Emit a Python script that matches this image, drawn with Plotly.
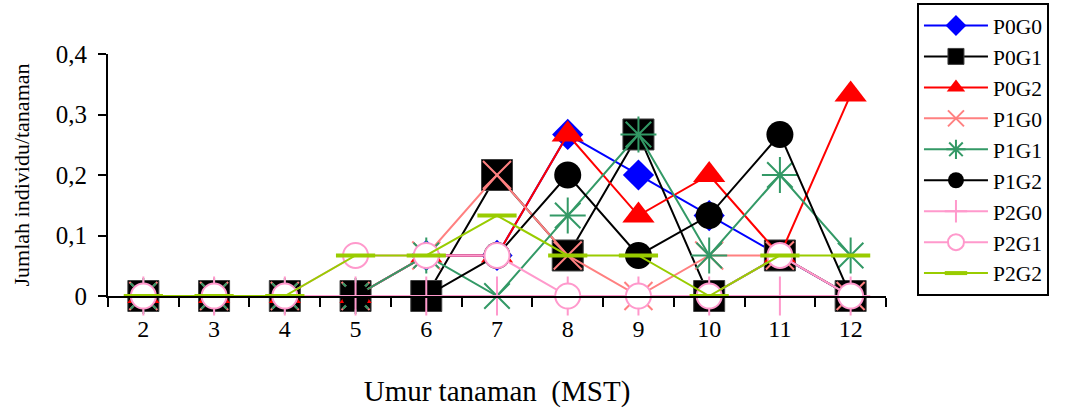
import plotly.graph_objects as go

# Plant age in weeks after planting (MST)
weeks = ["2", "3", "4", "5", "6", "7", "8", "9", "10", "11", "12"]

# Individuals per plant, one list per treatment
p0g0 = [0, 0, 0, 0, 0.067, 0.067, 0.267, 0.2, 0.133, 0.067, 0]
p0g1 = [0, 0, 0, 0, 0, 0.2, 0.067, 0.267, 0, 0.067, 0]
p0g2 = [0, 0, 0, 0, 0.067, 0.067, 0.267, 0.133, 0.2, 0.067, 0.333]
p1g0 = [0, 0, 0, 0, 0.067, 0.2, 0.067, 0, 0.067, 0.067, 0]
p1g1 = [0, 0, 0, 0, 0.067, 0, 0.133, 0.267, 0.067, 0.2, 0.067]
p1g2 = [0, 0, 0, 0, 0, 0.067, 0.2, 0.067, 0.133, 0.267, 0]
p2g0 = [0, 0, 0, 0, 0, 0, 0, 0, 0, 0, 0]
p2g1 = [0, 0, 0, 0.067, 0.067, 0.067, 0, 0, 0, 0.067, 0]
p2g2 = [0, 0, 0, 0.067, 0.067, 0.133, 0.067, 0.067, 0, 0.067, 0.067]

y_ticks = [0, 0.1, 0.2, 0.3, 0.4]
y_tick_labels = ["0", "0,1", "0,2", "0,3", "0,4"]

FONT = "'Liberation Serif', 'Times New Roman', 'DejaVu Serif', serif"

series = [
    ("P0G0", p0g0, "#0000FF", dict(symbol="diamond", size=24, color="#0000FF")),
    ("P0G1", p0g1, "#000000", dict(symbol="square", size=31, color="#000000",
                                   line=dict(color="#404040", width=1))),
    ("P0G2", p0g2, "#FF0000", dict(symbol="triangle-up", size=28, color="#FF0000")),
    ("P1G0", p1g0, "#FF8080", dict(symbol="x-thin-open", size=28,
                                   line=dict(color="#FF8080", width=2))),
    ("P1G1", p1g1, "#339966", dict(symbol="asterisk-open", size=30,
                                   line=dict(color="#339966", width=2))),
    ("P1G2", p1g2, "#000000", dict(symbol="circle", size=27, color="#000000")),
    ("P2G0", p2g0, "#FF99CC", dict(symbol="cross-thin-open", size=28,
                                   line=dict(color="#FF99CC", width=2))),
    ("P2G1", p2g1, "#FF99CC", dict(symbol="circle", size=25, color="#FFFFFF",
                                   line=dict(color="#FF99CC", width=2))),
    ("P2G2", p2g2, "#99CC00", dict(symbol="line-ew-open", size=28,
                                   line=dict(color="#99CC00", width=4))),
]

fig = go.Figure()
for name, vals, col, marker in series:
    fig.add_trace(go.Scatter(
        x=weeks, y=vals, name=name, mode="lines+markers",
        line=dict(color=col, width=2),
        marker=marker, cliponaxis=False,
    ))

fig.update_layout(
    width=1067, height=419,
    margin=dict(l=108, r=181, t=54, b=123, autoexpand=False),
    paper_bgcolor="white", plot_bgcolor="white",
    font=dict(family=FONT, color="black", size=24),
    showlegend=True,
    legend=dict(
        x=1.0398, y=1.2107, xanchor="left", yanchor="top",
        bordercolor="black", borderwidth=2, bgcolor="white",
        font=dict(family=FONT, size=21.5, color="black"),
        itemwidth=64, tracegroupgap=0, maxheight=330,
    ),
    xaxis=dict(
        type="category", range=[-0.5, 10.5],
        showline=True, linecolor="black", linewidth=2,
        ticks="outside", tickson="boundaries", ticklen=9, tickwidth=2,
        tickcolor="black", showgrid=False, zeroline=False,
        tickfont=dict(family=FONT, size=24), ticklabelstandoff=10,
        title=dict(text="Umur tanaman  (MST)", font=dict(family=FONT, size=29),
                   standoff=40),
    ),
    yaxis=dict(
        range=[0, 0.4], tickvals=y_ticks, ticktext=y_tick_labels,
        showline=True, linecolor="black", linewidth=2,
        ticks="outside", ticklen=8, tickwidth=2, tickcolor="black",
        showgrid=False, zeroline=False,
        tickfont=dict(family=FONT, size=25), ticklabelstandoff=6,
        title=dict(text="Jumlah individu/tanaman", font=dict(family=FONT, size=22),
                   standoff=20),
    ),
)

fig.write_html("out.html")
